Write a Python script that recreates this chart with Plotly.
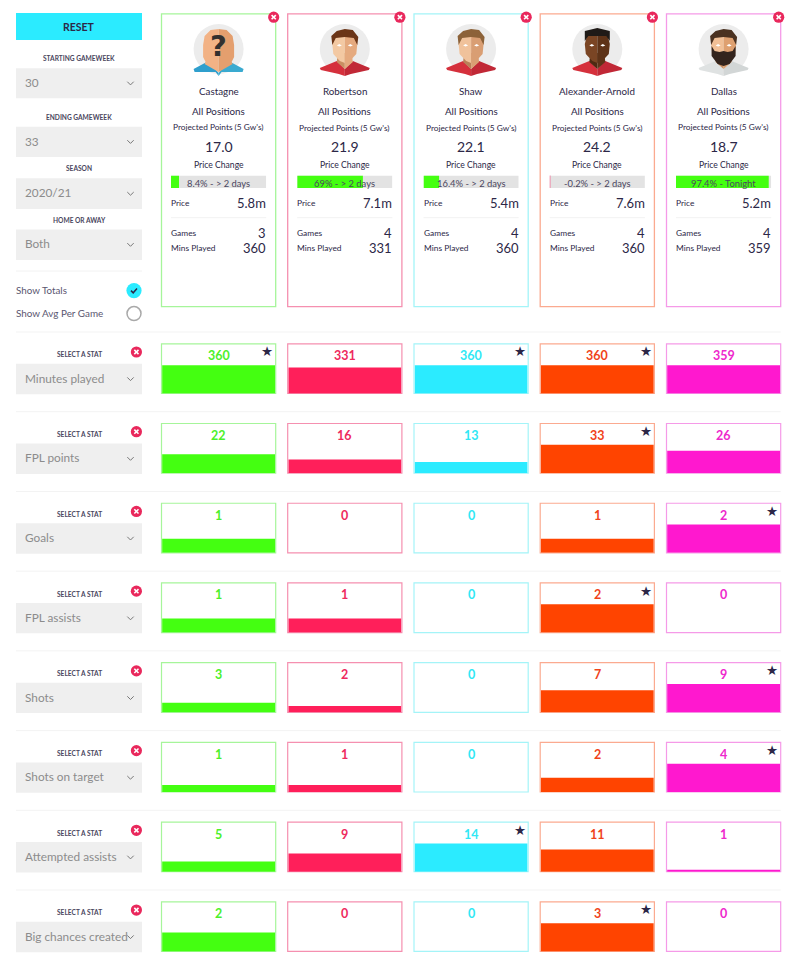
import plotly.graph_objects as go

# player cards
players = ["Castagne", "Robertson", "Shaw", "Alexander-Arnold", "Dallas"]
positions = ["All Positions"] * 5
projected = ["17.0", "21.9", "22.1", "24.2", "18.7"]
price_change = [8.4, 69, 16.4, -0.2, 97.4]
price_when = ["> 2 days", "> 2 days", "> 2 days", "> 2 days", "Tonight"]
prices = ["5.8m", "7.1m", "5.4m", "7.6m", "5.2m"]
games = [3, 4, 4, 4, 4]
mins_played = [360, 331, 360, 360, 359]

# stat rows
stat_names = ["Minutes played", "FPL points", "Goals", "FPL assists", "Shots",
              "Shots on target", "Attempted assists", "Big chances created"]
minutes = [360, 331, 360, 360, 359]
fpl_points = [22, 16, 13, 33, 26]
goals = [1, 0, 0, 1, 2]
fpl_assists = [1, 1, 0, 2, 0]
shots = [3, 2, 0, 7, 9]
shots_on_target = [1, 1, 0, 2, 4]
attempted_assists = [5, 9, 14, 11, 1]
big_chances = [2, 0, 0, 3, 0]
stat_values = [minutes, fpl_points, goals, fpl_assists, shots,
               shots_on_target, attempted_assists, big_chances]

# left panel
filter_labels = ["STARTING GAMEWEEK", "ENDING GAMEWEEK", "SEASON", "HOME OR AWAY"]
filter_values = ["30", "33", "2020/21", "Both"]

bar_colors = ["#44ff11", "#ff1f5a", "#2bebff", "#ff4400", "#ff18cf"]
border_colors = ["#a6f59a", "#f590b0", "#a4f4f8", "#fbaa90", "#f59ae8"]
text_colors = ["#4cf02a", "#ee2a5e", "#30e8f5", "#f0431a", "#ee28cc"]
DARK = "#2c2747"
GREY_TEXT = "#8c8c8c"
FONT = "Lato"
W, H = 800, 964

card_left = [161.5, 287.7, 414, 540.2, 666.5]
CARD_W = 114.2
row_top = [343.8 + 79.72 * i for i in range(8)]
ROW_H = 49.6

shapes, annotations = [], []


def text(x, y, s, size=11, color=DARK, anchor="center", bold=False, family=FONT):
    if bold:
        s = "<b>" + s + "</b>"
    annotations.append(dict(x=x, y=y, xref="x", yref="y", text=s, showarrow=False,
                            xanchor=anchor, yanchor="middle", borderpad=0, borderwidth=0,
                            font=dict(family=family, size=size, color=color)))


def rect(x0, y0, x1, y1, fill="rgba(0,0,0,0)", line=None, lw=1.2):
    shapes.append(dict(type="rect", x0=x0, y0=y0, x1=x1, y1=y1, xref="x", yref="y",
                       fillcolor=fill, layer="below",
                       line=dict(color=line or fill, width=lw if line else 0)))


def hline(x0, x1, y, color="#f2f2f2"):
    shapes.append(dict(type="line", x0=x0, x1=x1, y0=y, y1=y, xref="x", yref="y",
                       layer="below", line=dict(color=color, width=1)))


def circle(cx, cy, r, fill, line=None, lw=1.5):
    shapes.append(dict(type="circle", x0=cx - r, x1=cx + r, y0=cy - r, y1=cy + r,
                       xref="x", yref="y", fillcolor=fill, layer="below",
                       line=dict(color=line or fill, width=lw if line else 0)))


def poly(cx, cy, pts, fill, line=None, lw=1):
    path = "M" + " L".join(f"{cx + px:.1f},{cy + py:.1f}" for px, py in pts) + (" Z" if fill else "")
    shapes.append(dict(type="path", path=path, xref="x", yref="y", layer="below",
                       fillcolor=fill or "rgba(0,0,0,0)",
                       line=dict(color=line or "rgba(0,0,0,0)", width=lw if line else 0)))


def close_icon(cx, cy):
    circle(cx, cy, 5.6, "#e9285c")
    d = 2.1
    poly(cx, cy, [(-d, -d), (d, d)], None, "white", 1.6)
    poly(cx, cy, [(-d, d), (d, -d)], None, "white", 1.6)


def chevron(cx, cy):
    poly(cx, cy, [(-3.2, -1.6), (0, 1.6), (3.2, -1.6)], None, "#777777", 1)


def select(y0, y1, label):
    rect(16, y0, 142, y1, "#efefef")
    text(24.5, (y0 + y1) / 2 - 0.8, label, 11.8, GREY_TEXT, "left")
    chevron(130.5, (y0 + y1) / 2)


def mirror(pts):
    return [(-px, py) for px, py in pts]


def portrait(cx, cy, skin_l, skin_r, neck, hair, shirt, shirt_dark, beard=None, hair_pts=None):
    circle(cx, cy, 25, "#ececec")
    # shoulders
    poly(cx, cy, [(0, 20), (-8, 12), (-25, 19), (-24, 21), (-6, 25), (0, 27)], shirt)
    poly(cx, cy, [(0, 20), (8, 12), (25, 19), (24, 21), (6, 25), (0, 27)], shirt_dark)
    # neck
    poly(cx, cy, [(0, 20), (-8, 13), (-7, 4), (0, 4)], neck)
    poly(cx, cy, [(0, 20), (8, 13), (7, 4), (0, 4)], skin_r)
    # face
    half = [(0, -16), (-10, -15), (-12.5, -5), (-11.5, 5), (-5, 12), (0, 14)]
    poly(cx, cy, half, skin_l)
    poly(cx, cy, mirror(half), skin_r)
    if beard:
        bd = [(-12, -3), (-9, 2), (-4, 3), (0, 2), (4, 3), (9, 2), (12, -3), (12, 7), (6, 15),
              (0, 17), (-6, 15), (-12, 7)]
        poly(cx, cy, bd, beard)
    poly(cx, cy, hair_pts or [(-12.5, -4), (-13.5, -13), (-8, -18), (0, -20), (8, -19), (13.5, -12),
                              (12.5, -4), (9, -11), (0, -12), (-9, -11)], hair)
    for ex in (-5.5, 5.5):
        poly(cx, cy, [(ex - 2.5, -3.5), (ex, -5), (ex + 2.5, -3.5), (ex, -2.5)], "white")


# left panel
rect(16, 13, 142, 40, "#2bebff")
text(79, 26.5, "RESET", 10.5, DARK, bold=True)
filter_label_y = [58, 117, 168, 220]
filter_boxes = [(68.3, 98.3), (126.7, 157), (178.3, 209), (229.4, 260)]
for lab, val, ly, (b0, b1) in zip(filter_labels, filter_values, filter_label_y, filter_boxes):
    text(79, ly, lab, 6.6, "#4a4660", bold=True)
    select(b0, b1, val)
hline(16, 142, 271)
text(16, 290, "Show Totals", 9.8, "#5a5670", "left")
text(16, 313, "Show Avg Per Game", 9.9, "#5a5670", "left")
circle(134, 290.6, 7.6, "#2bebff")
poly(134, 290.6, [(-3, 0), (-0.8, 2.2), (3, -2)], None, DARK, 1.5)
circle(134, 313.6, 7, "white", "#a9a9a9")

# player cards
for i, name in enumerate(players):
    x0 = card_left[i]
    x1 = x0 + CARD_W
    cx = (x0 + x1) / 2
    ty = 0 if i in (0, 4) else 0.4
    rect(x0, 13.8, x1, 306.6, "white", border_colors[i], 1.3)
    close_icon(x1 - 2, 17.2)
    text(cx, 91 + ty, name, 9.8)
    text(cx, 110.5 + ty, positions[i], 9.8)
    text(cx, 127.2 + ty, "Projected Points (5 Gw's)", 8.3)
    text(cx, 146 + ty, projected[i], 14)
    text(cx, 165 + ty, "Price Change", 8.6)
    sign = f"{price_change[i]}%"
    text(cx, 183, f"{sign} - {price_when[i]}", 9.4, "#4a4660")
    text(x0 + 9.5, 203, "Price", 8.4, anchor="left")
    text(x1 - 9.5, 203.3, prices[i], 13, anchor="right")
    hline(x0 + 9.5, x1 - 9.5, 217.7)
    text(x0 + 9.5, 232.7, "Games", 8.4, anchor="left")
    text(x1 - 9.5, 233, str(games[i]), 13, anchor="right")
    text(x0 + 9.5, 248, "Mins Played", 8.4, anchor="left")
    text(x1 - 9.5, 248.3, str(mins_played[i]), 13, anchor="right")

# portraits
portrait_cy = 49
pcx = [c + CARD_W / 2 for c in card_left]
cx, cy = pcx[0], portrait_cy
circle(cx, cy, 25, "#ececec")
poly(cx, cy, [(0, 24), (-10, 12), (-25, 20), (-24, 23), (-3, 23), (0, 27)], "#2f9fcd")
poly(cx, cy, [(0, 24), (10, 12), (25, 20), (24, 23), (3, 23), (0, 27)], "#3aaad0")
poly(cx, cy, [(0, -20), (-8, -19), (-14, -13), (-15.5, -4), (-15.5, 8), (-13, 13), (-14, 15), (0, 23)], "#f2b285")
poly(cx, cy, [(0, -20), (8, -19), (14, -13), (15.5, -4), (15.5, 8), (13, 13), (14, 15), (0, 23)], "#e49f6e")
text(cx, cy - 3, "?", 29, "#33302f", bold=True, family="DejaVu Sans")
portrait(pcx[1], cy, "#f3c9a3", "#e5aa7f", "#c98f62", "#6b3517", "#d5303c", "#c12836")
portrait(pcx[2], cy, "#f0c29b", "#d99e73", "#b98058", "#8c6239", "#d5303c", "#c12836")
portrait(pcx[3], cy, "#7a4524", "#5e3318", "#4e2a12", "#1f1a17", "#d5303c", "#c12836",
         hair_pts=[(-12.5, -8), (-12.5, -18), (0, -21), (12.5, -18), (12.5, -8), (9, -13), (-9, -13)])
portrait(pcx[4], cy, "#f1c097", "#dea070", "#c68e60", "#4a3120", "#dfe2e2", "#d2d6d6",
         beard="#33241d")

fig = go.Figure()


def axis(domain=None, rng=None, **kw):
    d = dict(visible=False, fixedrange=True, range=rng, **kw)
    if domain:
        d["domain"] = domain
    return d


layout_axes = {"xaxis": axis([0, 1], [0, W]), "yaxis": axis([0, 1], [H, 0])}
# invisible trace that keeps the pixel overlay axes alive
fig.add_trace(go.Scatter(x=[0, W], y=[0, H], mode="markers", marker=dict(opacity=0),
                         hoverinfo="skip", showlegend=False))

# stat rows: shared column x axes (x2..x6), one y axis per row (y2..y9)
for c, x0 in enumerate(card_left):
    layout_axes[f"xaxis{c + 2}"] = axis([(x0 + 0.6) / W, (x0 + CARD_W - 0.6) / W], [-0.5, 0.5],
                                        anchor="y2")

for r, (stat, vals) in enumerate(zip(stat_names, stat_values)):
    top = row_top[r]
    layout_axes[f"yaxis{r + 2}"] = axis([1 - (top + ROW_H) / H, 1 - top / H], [0, max(vals) / 0.57],
                                        anchor="x2")
    hline(16, 780.7, top - 11.8, "#f3f3f3")
    text(79, top + 10.6, "SELECT A STAT", 6.6, "#4a4660", bold=True)
    close_icon(136.4, top + 8.2)
    select(top + 20, top + 50.4, stat)
    for c, v in enumerate(vals):
        x0 = card_left[c]
        rect(x0, top, x0 + CARD_W, top + ROW_H, "white", border_colors[c], 1.2)
        fig.add_trace(go.Bar(x=[0], y=[v], width=1, marker=dict(color=bar_colors[c], line=dict(width=0)),
                             xaxis=f"x{c + 2}", yaxis=f"y{r + 2}", showlegend=False,
                             name=players[c], hovertemplate=stat + ": %{y}<extra></extra>"))
        text(x0 + CARD_W / 2, top + 12, str(v), 12.5, text_colors[c], bold=True)
        if v == max(vals):
            text(x0 + CARD_W - 8.5, top + 7.6, "★", 13.5, DARK, family="DejaVu Sans")

# price change strip: own x axes (x7..x11) sharing y10
layout_axes["yaxis10"] = axis([1 - 188 / H, 1 - 175.4 / H], [-0.5, 0.5], anchor="x7")
for c, x0 in enumerate(card_left):
    layout_axes[f"xaxis{c + 7}"] = axis([(x0 + 9.5) / W, (x0 + CARD_W - 9.5) / W], [0, 100], anchor="y10")
    pct = price_change[c]
    fig.add_trace(go.Bar(x=[100], y=[0], width=1, orientation="h", marker=dict(color="#e3e3e3", line=dict(width=0)),
                         xaxis=f"x{c + 7}", yaxis="y10", showlegend=False, hoverinfo="skip"))
    fig.add_trace(go.Bar(x=[abs(pct)], y=[0], width=1, orientation="h",
                         marker=dict(color="#44ff11" if pct >= 0 else "#f08aa8",
                                     line=dict(width=0 if pct >= 0 else 1.4,
                                               color="#f08aa8")),
                         xaxis=f"x{c + 7}", yaxis="y10", showlegend=False,
                         hovertemplate=players[c] + ": %{x}%<extra></extra>"))

fig.update_layout(width=W, height=H, margin=dict(l=0, r=0, t=0, b=0),
                  paper_bgcolor="white", plot_bgcolor="rgba(0,0,0,0)",
                  barmode="overlay", showlegend=False, shapes=shapes, annotations=annotations,
                  **layout_axes)

fig.write_html("out.html", config={"displayModeBar": False},
               post_script="document.body.style.margin='0';")
